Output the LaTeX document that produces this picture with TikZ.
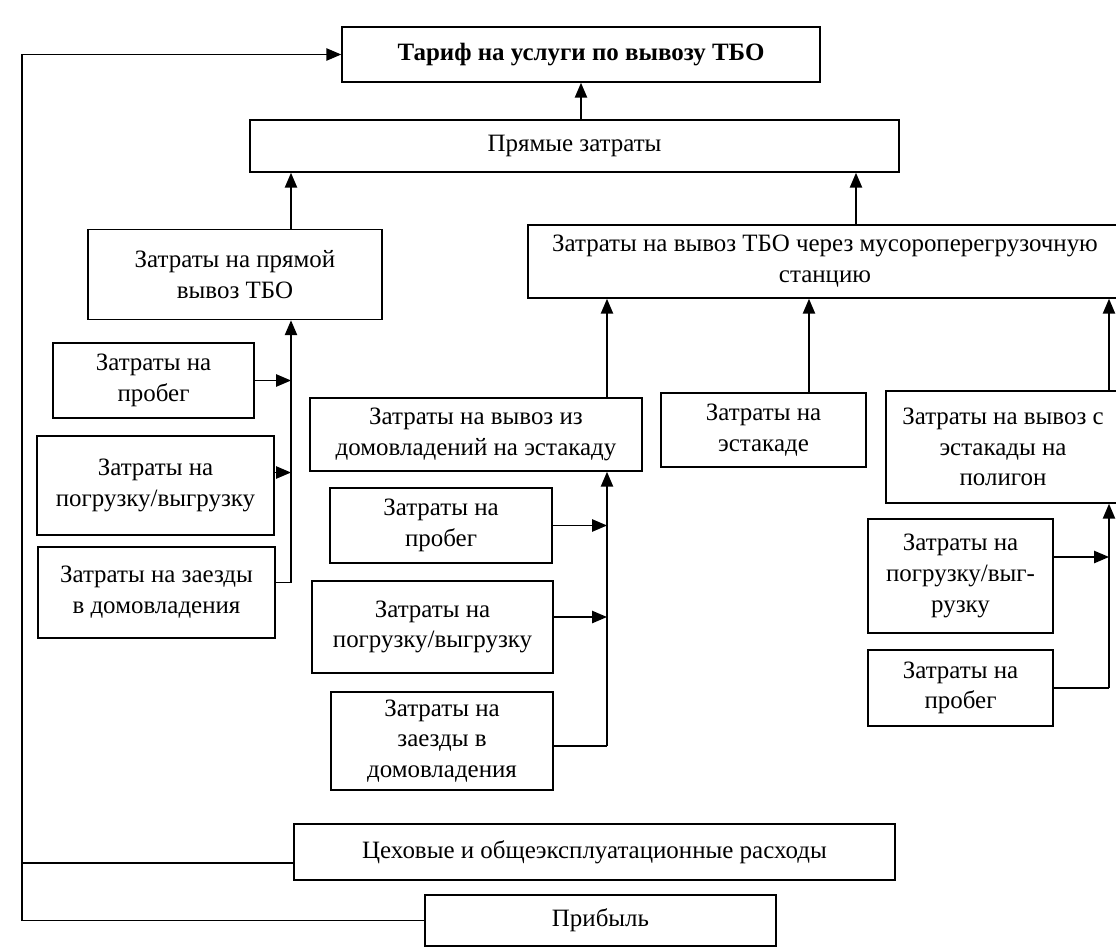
\documentclass[tikz,border=0pt]{standalone}
\usepackage{fontspec}
\setmainfont{Liberation Serif}
\usetikzlibrary{arrows.meta}

\begin{document}
\begin{tikzpicture}[x=0.02cm, y=-0.02cm,
    box/.style={draw, line width=0.9pt, align=center, inner sep=2pt,
        font=\fontsize{14.2}{17.5}\selectfont},
    link/.style={line width=0.9pt},
    arr/.style={line width=0.9pt, -{Triangle[length=8.5pt,width=7pt]}}]
    \clip (0,0) rectangle (1116,950);
    \fill[white] (0,0) rectangle (1116,950);

    % Top levels
    \node[box, minimum width=9.56cm, minimum height=1.1cm, font=\fontsize{14.2}{17.5}\selectfont\bfseries]
        (tarif) at (581,54.5) {Тариф на услуги по вывозу ТБО};
    \node[box, minimum width=12.98cm, minimum height=1.04cm] (pryam) at (574.5,146) {Прямые затраты};

    % Two ways of removal
    \node[box, minimum width=5.88cm, minimum height=1.8cm] (direct) at (235,274.5)
        {Затраты на прямой\\ вывоз ТБО};
    \node[box, minimum width=11.88cm, minimum height=1.46cm] (station) at (825,261.5)
        {Затраты на вывоз ТБО через мусороперегрузочную\\ станцию};

    % Bus lines
    \coordinate (busL) at (291,0);
    \coordinate (busM) at (607,0);
    \coordinate (busR) at (1109,0);
    \coordinate (tr) at (809,0);
    \coordinate (st) at (856,0);
    \coordinate (outer) at (22,0);

    % Left branch
    \node[box, minimum width=4.02cm, minimum height=1.5cm] (run1) at (153.5,380.5) {Затраты на\\ пробег};
    \node[box, minimum width=4.74cm, minimum height=1.98cm] (load1) at (155.5,485.5) {Затраты на\\ погрузку/выгрузку};
    \node[box, minimum width=4.74cm, minimum height=1.82cm] (visits1) at (156.5,592.5) {Затраты на заезды\\ в домовладения};

    % Middle branch
    \node[box, minimum width=6.64cm, minimum height=1.46cm] (houses) at (476,434.5)
        {Затраты на вывоз из\\ домовладений на эстакаду};
    \node[box, minimum width=4.44cm, minimum height=1.5cm] (run2) at (441,525.5) {Затраты на\\ пробег};
    \node[box, minimum width=4.82cm, minimum height=1.84cm] (load2) at (432.5,627) {Затраты на\\ погрузку/выгрузку};
    \node[box, minimum width=4.44cm, minimum height=1.96cm] (visits2) at (442,741) {Затраты на\\ заезды в\\ домовладения};
    \node[box, minimum width=4.1cm, minimum height=1.48cm] (trestle) at (763.5,430) {Затраты на\\ эстакаде};

    % Right branch
    \node[box, minimum width=4.68cm, minimum height=2.24cm] (polygon) at (1003,447)
        {Затраты на вывоз с\\ эстакады на\\ полигон};
    \node[box, minimum width=3.7cm, minimum height=2.28cm] (load3) at (960.5,576) {Затраты на\\ погрузку/выг-\\ рузку};
    \node[box, minimum width=3.7cm, minimum height=1.52cm] (run3) at (960.5,688) {Затраты на\\ пробег};

    % Overheads and profit
    \node[box, minimum width=12.02cm, minimum height=1.12cm] (workshop) at (594.5,852)
        {Цеховые и общеэксплуатационные расходы};
    \node[box, minimum width=7.02cm, minimum height=1.02cm] (profit) at (600.5,920.5) {Прибыль};

    % Arrows to the top
    \draw[arr] (pryam.north -| tarif.south) -- (tarif.south);
    \draw[arr] (busL |- direct.north) -- (busL |- pryam.south);
    \draw[arr] (st |- station.north) -- (st |- pryam.south);

    % Arrows to the station box
    \draw[arr] (busM |- houses.north) -- (busM |- station.south);
    \draw[arr] (tr |- trestle.north) -- (tr |- station.south);
    \draw[arr] (busR |- polygon.north) -- (busR |- station.south);

    % Left bus
    \draw[arr] (run1.east) -- (run1.east -| busL);
    \draw[arr] ([yshift=0.26cm]load1.east) -- ([yshift=0.26cm]load1.east -| busL);
    \draw[link] ([yshift=0.2cm]visits1.east) -- ([yshift=0.2cm]visits1.east -| busL);
    \draw[arr] ([yshift=0.2cm]visits1.east -| busL) -- (busL |- direct.south);

    % Middle bus
    \draw[arr] (run2.east) -- (run2.east -| busM);
    \draw[arr] ([yshift=0.2cm]load2.east) -- ([yshift=0.2cm]load2.east -| busM);
    \draw[link] ([yshift=-0.1cm]visits2.east) -- ([yshift=-0.1cm]visits2.east -| busM);
    \draw[arr] ([yshift=-0.1cm]visits2.east -| busM) -- (busM |- houses.south);

    % Right bus
    \draw[arr] ([yshift=0.38cm]load3.east) -- ([yshift=0.38cm]load3.east -| busR);
    \draw[link] (run3.east) -- (run3.east -| busR);
    \draw[arr] (run3.east -| busR) -- (busR |- polygon.south);

    % Outer loop
    \draw[link] ([yshift=-0.22cm]workshop.west) -- ([yshift=-0.22cm]workshop.west -| outer);
    \draw[arr] (profit.west) -- (profit.west -| outer) -- (outer |- tarif.west) -- (tarif.west);
\end{tikzpicture}
\end{document}
